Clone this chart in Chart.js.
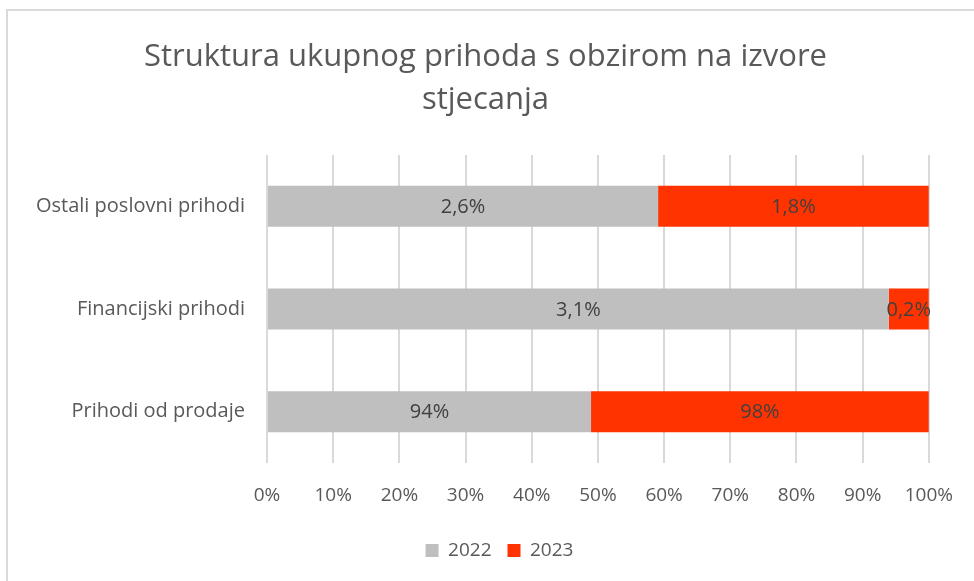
<!DOCTYPE html>
<html>
<head>
<meta charset="utf-8">
<script src="https://cdn.jsdelivr.net/npm/chart.js@4.4.1/dist/chart.umd.min.js"></script>
<style>
  html, body { margin: 0; padding: 0; background: #fff; }
  #wrap { width: 974px; height: 581px; }
</style>
</head>
<body>
<div id="wrap"><canvas id="revenueChart" width="974" height="581"></canvas></div>
<script>
// raw shares per year (as printed on the bars)
const categories = ['Ostali poslovni prihodi', 'Financijski prihodi', 'Prihodi od prodaje'];
const seriesNames = ['2022', '2023'];
const values2022 = [2.6, 3.1, 94];
const values2023 = [1.8, 0.2, 98];
const xTicks = [0, 10, 20, 30, 40, 50, 60, 70, 80, 90, 100];

const colors = ['#bfbfbf', '#ff3300'];
const textColor = '#595959';
const fontFamily = '"Open Sans", "Noto Sans", sans-serif';

// 100% stacked: each row is scaled to the row total
const toShare = function (vals) {
  return vals.map(function (v, i) {
    return v / (values2022[i] + values2023[i]) * 100;
  });
};

const fmt = function (v) {
  return String(v).replace('.', ',') + '%';
};

const frame = {
  id: 'frame',
  afterLayout: function (chart) {
    // nudge title and legend to where excel put them
    chart.titleBlock.left += 9;
    chart.titleBlock.right += 9;
    chart.legend.left += 23;
    chart.legend.right += 23;
  },
  beforeDraw: function (chart) {
    var ctx = chart.ctx;
    ctx.save();
    ctx.fillStyle = '#fff';
    ctx.fillRect(0, 0, chart.width, chart.height);
    ctx.strokeStyle = '#d9d9d9';
    ctx.lineWidth = 2;
    ctx.beginPath();
    ctx.moveTo(7, chart.height);
    ctx.lineTo(7, 10);
    ctx.lineTo(chart.width, 10);
    ctx.stroke();
    ctx.restore();
  }
};

const barLabels = {
  id: 'barLabels',
  afterDatasetsDraw: function (chart) {
    var ctx = chart.ctx;
    ctx.save();
    ctx.font = '20px ' + fontFamily;
    ctx.fillStyle = '#404040';
    ctx.textAlign = 'center';
    ctx.textBaseline = 'middle';
    chart.data.datasets.forEach(function (ds, di) {
      var meta = chart.getDatasetMeta(di);
      meta.data.forEach(function (bar, i) {
        var x = (bar.x + bar.base) / 2;
        ctx.fillText(fmt(ds.raw[i]), x, bar.y + 1);
      });
    });
    ctx.restore();
  }
};

new Chart(document.getElementById('revenueChart').getContext('2d'), {
  type: 'bar',
  data: {
    labels: categories,
    datasets: [
      { label: seriesNames[0], data: toShare(values2022), raw: values2022, backgroundColor: colors[0] },
      { label: seriesNames[1], data: toShare(values2023), raw: values2023, backgroundColor: colors[1] }
    ]
  },
  options: {
    indexAxis: 'y',
    responsive: false,
    animation: false,
    barPercentage: 0.4,
    categoryPercentage: 1,
    layout: { padding: { top: 26, right: 41, bottom: 11, left: 20 } },
    plugins: {
      title: {
        display: true,
        text: ['Struktura ukupnog prihoda s obzirom na izvore', 'stjecanja'],
        color: textColor,
        font: { family: fontFamily, size: 31, weight: 'normal', lineHeight: 1.387 },
        padding: { top: 10, bottom: 33 }
      },
      legend: {
        position: 'bottom',
        labels: {
          color: textColor,
          font: { family: fontFamily, size: 19 },
          boxWidth: 13,
          boxHeight: 13,
          padding: 16
        }
      },
      tooltip: { enabled: false }
    },
    scales: {
      x: {
        stacked: true,
        min: 0,
        max: 100,
        afterBuildTicks: function (axis) {
          axis.ticks = xTicks.map(function (v) { return { value: v }; });
        },
        ticks: {
          color: textColor,
          font: { family: fontFamily, size: 19 },
          padding: 21,
          callback: function (value) { return value + '%'; }
        },
        grid: { color: '#d9d9d9', lineWidth: 2, drawTicks: false },
        border: { display: false },
        afterFit: function (axis) { axis.height = 62; }
      },
      y: {
        stacked: true,
        ticks: {
          color: textColor,
          font: { family: fontFamily, size: 20 },
          padding: 22
        },
        grid: { display: false, drawTicks: false },
        border: { display: false },
        afterFit: function (axis) { axis.width = 247; }
      }
    }
  },
  plugins: [frame, barLabels]
});
</script>
</body>
</html>
